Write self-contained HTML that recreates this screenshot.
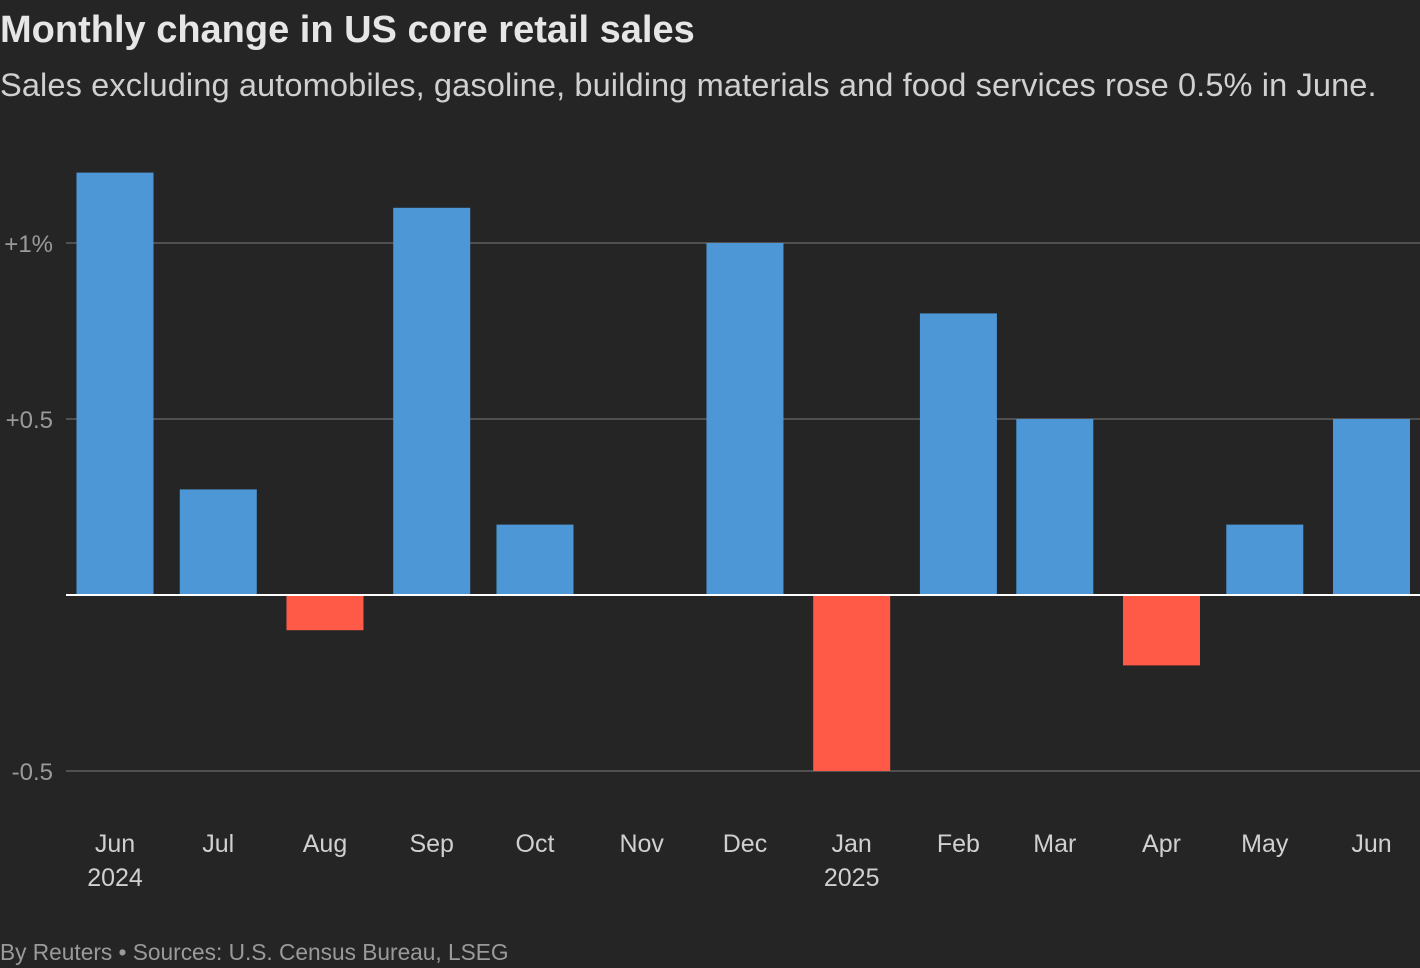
<!DOCTYPE html>
<html><head><meta charset="utf-8"><style>
body{margin:0;background:#252525;width:1420px;height:968px;overflow:hidden;font-family:"Liberation Sans",sans-serif;}
.t{position:absolute;left:0;white-space:nowrap}
</style></head><body>
<div class="t" style="top:9px;font-size:38px;font-weight:bold;color:#e6e6e6;letter-spacing:0px">Monthly change in US core retail sales</div>
<div class="t" style="top:66px;font-size:32.6px;color:#d0d0d0;letter-spacing:0.1px">Sales excluding automobiles, gasoline, building materials and food services rose 0.5% in June.</div>
<div class="t" style="top:939px;font-size:22.7px;color:#9a9a9a">By Reuters • Sources: U.S. Census Bureau, LSEG</div>
<svg id="chart" width="1420" height="968" style="position:absolute;left:0;top:0"></svg>
<script>
const months=["2024-06-01","2024-07-01","2024-08-01","2024-09-01","2024-10-01","2024-11-01","2024-12-01","2025-01-01","2025-02-01","2025-03-01","2025-04-01","2025-05-01","2025-06-01"];
const monthLabels=["Jun","Jul","Aug","Sep","Oct","Nov","Dec","Jan","Feb","Mar","Apr","May","Jun"];
const yearLabels=["2024","","","","","","","2025","","","","",""];
const values=[1.2,0.3,-0.1,1.1,0.2,0,1.0,-0.5,0.8,0.5,-0.2,0.2,0.5];
const ticks=[-0.5,0.5,1];
const tickLabels=["-0.5","+0.5","+1%"];
const NS="http://www.w3.org/2000/svg";
const svg=document.getElementById('chart');
const t0=Date.parse(months[0]),t1=Date.parse(months[months.length-1]);
const x=d=>115+(Date.parse(d)-t0)/(t1-t0)*(1371.5-115);
const y=v=>595-v*352;
const bw=77;
function mk(tag,a){const e=document.createElementNS(NS,tag);for(const k in a)e.setAttribute(k,a[k]);svg.appendChild(e);return e;}
ticks.forEach((v,i)=>{
 const l=mk('line',{x1:66,x2:1420,y1:y(v),y2:y(v),stroke:'#5e5e5e','stroke-width':1.5});
 
 
 const t=mk('text',{x:53,y:y(v)+9,'text-anchor':'end',fill:'#9a9a9a','font-size':24,'font-family':'Liberation Sans, sans-serif'});
 t.textContent=tickLabels[i];
 
 
});
values.forEach((v,i)=>{
 const cx=x(months[i]);
 const top=Math.min(y(v),y(0)),h=Math.abs(y(v)-y(0));
 const r=mk('rect',{x:cx-bw/2,y:top,width:bw,height:h,fill:v>=0?'#4d97d6':'#ff5a47'});
 
 
 const t=mk('text',{x:cx,y:852,'text-anchor':'middle',fill:'#d0d0d0','font-size':25,'font-family':'Liberation Sans, sans-serif'});
 t.textContent=monthLabels[i];
 
 
 if(yearLabels[i]){
  const yt=mk('text',{x:cx,y:886,'text-anchor':'middle',fill:'#d0d0d0','font-size':25,'font-family':'Liberation Sans, sans-serif'});
  yt.textContent=yearLabels[i];
  
  
 }
});
const z=mk('line',{x1:66,x2:1420,y1:y(0),y2:y(0),stroke:'#ffffff','stroke-width':2});


</script>
</body></html>
